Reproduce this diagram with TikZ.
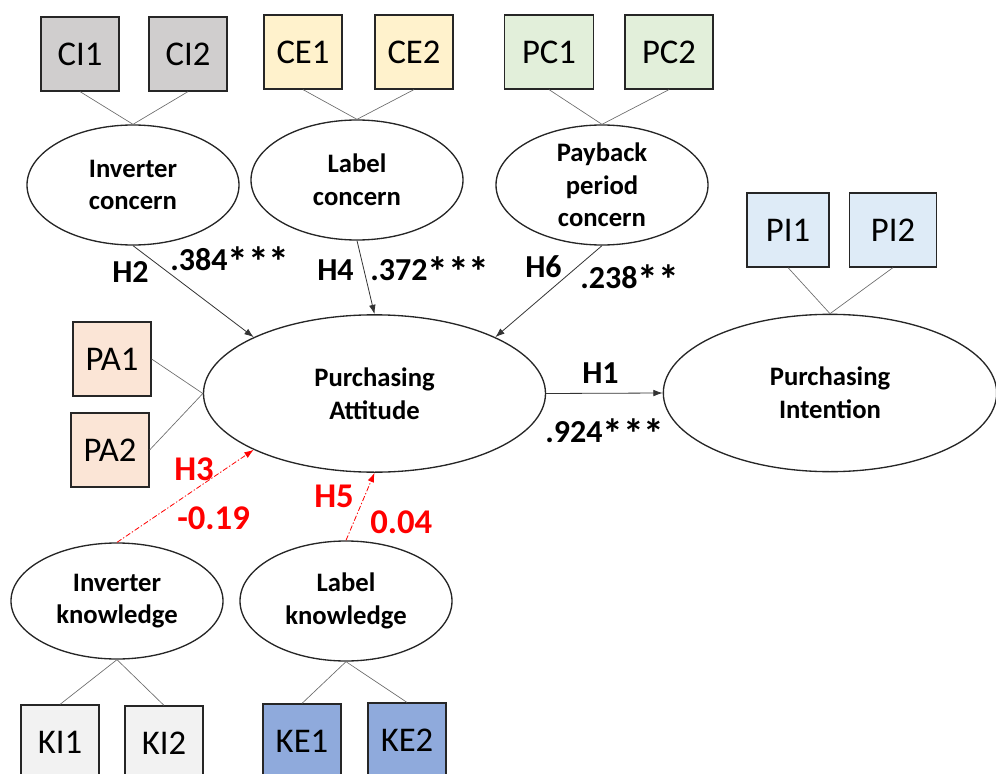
\documentclass[tikz,border=0pt]{standalone}
\usepackage{fontspec}
\usepackage{graphicx}
\setmainfont{Carlito}
\usetikzlibrary{shapes.geometric,arrows.meta}
\definecolor{ciGray}{HTML}{D0CECE}
\definecolor{ceYellow}{HTML}{FFF2CC}
\definecolor{pcGreen}{HTML}{E2EFDA}
\definecolor{piBlue}{HTML}{DEEBF7}
\definecolor{paOrange}{HTML}{FBE5D6}
\definecolor{kiGray}{HTML}{F2F2F2}
\definecolor{keBlue}{HTML}{8FAADC}
\newcommand{\sigstars}[1]{\raisebox{-0.2em}{\scalebox{1.3}{#1}}}
\tikzset{
  item/.style={draw=black!85,line width=0.9pt,inner sep=0pt,minimum width=58.5pt,minimum height=55.5pt,font=\fontsize{26}{30}\selectfont},
  latent/.style={ellipse,draw=black!85,line width=1pt,inner sep=0pt,minimum width=159pt,minimum height=90pt,align=center,font=\fontsize{20}{24.5}\selectfont\bfseries},
  loading/.style={draw=gray!85!black,line width=0.5pt},
  effect/.style={draw=black!80,line width=0.6pt,-{Latex[length=7pt,width=5pt]}},
  weak/.style={draw=red,line width=0.6pt,dash pattern=on 4pt off 1.5pt on 1pt off 1.5pt,-{Latex[length=7pt,width=5pt]}},
  coef/.style={anchor=base west,inner sep=0pt,font=\fontsize{24}{28}\selectfont\bfseries},
  ns/.style={anchor=base west,inner sep=0pt,text=red,font=\fontsize{26}{30}\selectfont\bfseries},
}
\begin{document}
\begin{tikzpicture}[x=0.75pt,y=-0.75pt]
  \useasboundingbox (0,0) rectangle (996,774);
  \clip (0,0) rectangle (996,774);
  % latent constructs
  \node[latent] (ic) at (133,185) {Inverter\\concern};
  \node[latent] (lc) at (357,180) {Label\\concern};
  \node[latent] (pc) at (602,185) {Payback\\period\\concern};
  \node[latent,minimum width=256.5pt,minimum height=118pt] (pa) at (374.5,393.5) {Purchasing\\Attitude};
  \node[latent,minimum width=250pt,minimum height=118pt] (pi) at (830,393) {Purchasing\\Intention};
  \node[latent,minimum height=87pt] (ik) at (117,601) {Inverter\\knowledge};
  \node[latent] (lk) at (346,601) {Label\\knowledge};
  % indicators
  \node[item,fill=ciGray] (ci1) at (80,54) {CI1};
  \node[item,fill=ciGray] (ci2) at (188,54) {CI2};
  \node[item,fill=ceYellow] (ce1) at (303,52) {CE1};
  \node[item,fill=ceYellow] (ce2) at (414,52) {CE2};
  \node[item,fill=pcGreen,minimum width=67pt] (pc1) at (549,52) {PC1};
  \node[item,fill=pcGreen,minimum width=66pt] (pc2) at (669,52) {PC2};
  \node[item,fill=piBlue,minimum width=61.5pt] (pi1) at (788,230) {PI1};
  \node[item,fill=piBlue,minimum width=65pt] (pi2) at (893,230) {PI2};
  \node[item,fill=paOrange] (pa1) at (112,359) {PA1};
  \node[item,fill=paOrange] (pa2) at (110,450) {PA2};
  \node[item,fill=kiGray] (ki1) at (60,742) {KI1};
  \node[item,fill=kiGray] (ki2) at (164,743) {KI2};
  \node[item,fill=keBlue] (ke1) at (302,741) {KE1};
  \node[item,fill=keBlue] (ke2) at (407,740) {KE2};
  % loadings
  \draw[loading] (ci1.south) -- (ic.north) -- (ci2.south);
  \draw[loading] (ce1.south) -- (lc.north) -- (ce2.south);
  \draw[loading] (pc1.south) -- (pc.north) -- (pc2.south);
  \draw[loading] (pi1.south) -- (pi.north) -- (pi2.south);
  \draw[loading] (pa1.east) -- (pa.west) -- (pa2.east);
  \draw[loading] (ki1.north) -- (ik.south) -- (ki2.north);
  \draw[loading] (ke1.north) -- (lk.south) -- (ke2.north);
  % structural paths
  \draw[effect] (ic.south) -- (pa.155);
  \draw[effect] (lc.south) -- (pa.north);
  \draw[effect] (pc.south) -- (pa.25);
  \draw[effect] (pa.east) -- (pi.west);
  \draw[weak] (ik.north) -- (pa.205);
  \draw[weak] (lk.north) -- (pa.south);
  % coefficients
  \node[coef] (h2) at (112,282) {H2};
  \node[coef] (b2) at (170,270) {.384\sigstars{***}};
  \node[coef] (h4) at (317,280) {H4};
  \node[coef] (b4) at (370,280) {.372\sigstars{***}};
  \node[coef] (h6) at (525,277) {H6};
  \node[coef] (b6) at (580,288) {.238\sigstars{**}};
  \node[coef] (h1) at (582,383) {H1};
  \node[coef] (b1) at (545,442) {.924\sigstars{***}};
  \node[ns] (h3) at (174,480) {H3};
  \node[ns] (b3) at (177,529) {-0.19};
  \node[ns] (h5) at (314,507) {H5};
  \node[ns] (b5) at (370,533) {0.04};
\end{tikzpicture}
\end{document}
